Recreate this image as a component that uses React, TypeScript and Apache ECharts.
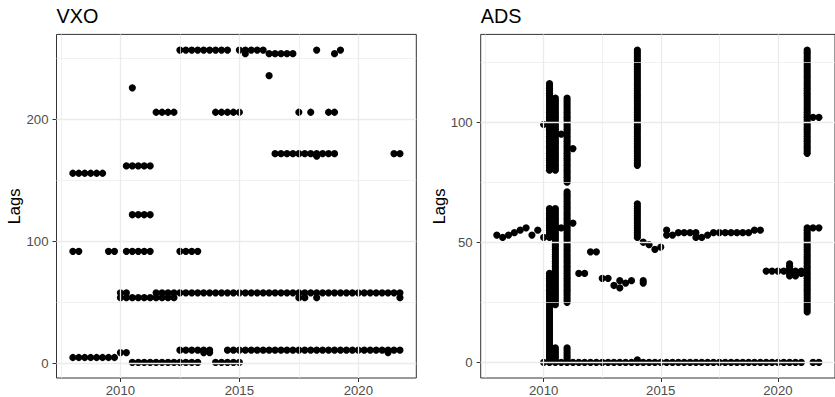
import React, { useEffect, useRef } from "react";
import * as echarts from "echarts";

// Quarterly observation dates (decimal years)
const quarters: number[] = [
  2008.0, 2008.25, 2008.5, 2008.75, 2009.0, 2009.25, 2009.5, 2009.75,
  2010.0, 2010.25, 2010.5, 2010.75, 2011.0, 2011.25, 2011.5, 2011.75,
  2012.0, 2012.25, 2012.5, 2012.75, 2013.0, 2013.25, 2013.5, 2013.75,
  2014.0, 2014.25, 2014.5, 2014.75, 2015.0, 2015.25, 2015.5, 2015.75,
  2016.0, 2016.25, 2016.5, 2016.75, 2017.0, 2017.25, 2017.5, 2017.75,
  2018.0, 2018.25, 2018.5, 2018.75, 2019.0, 2019.25, 2019.5, 2019.75,
  2020.0, 2020.25, 2020.5, 2020.75, 2021.0, 2021.25, 2021.5, 2021.75,
];

// VXO: selected lags per quarter (index matches quarters)
const vxoLags: number[][] = [
  [5, 92, 156], [5, 92, 156], [5, 156], [5, 156], [5, 156], [5, 156], [5, 92], [5, 92],
  [9, 54, 58], [9, 54, 58, 92, 162], [1, 54, 92, 122, 162, 226], [1, 54, 92, 122, 162],
  [1, 54, 92, 122, 162], [1, 54, 92, 122, 162], [1, 54, 58, 206], [1, 54, 58, 206],
  [1, 54, 58, 206], [1, 54, 58, 206], [1, 11, 58, 92, 257], [1, 11, 58, 92, 257],
  [1, 11, 58, 92, 257], [1, 11, 58, 92, 257], [9, 11, 58, 257], [9, 11, 58, 257],
  [1, 58, 206, 257], [1, 58, 206, 257], [1, 11, 58, 206, 257], [1, 11, 58, 206],
  [1, 11, 58, 206, 257], [11, 58, 254, 257], [11, 58, 257], [11, 58, 257],
  [11, 58, 257], [11, 58, 236, 254], [11, 58, 172, 254], [11, 58, 172, 254],
  [11, 58, 172, 254], [11, 58, 172, 254], [11, 54, 58, 172, 206], [11, 54, 58, 172],
  [11, 58, 172, 206], [11, 54, 58, 170, 172, 257], [11, 58, 172], [11, 58, 172, 206],
  [11, 58, 172, 206, 254], [11, 58, 257], [11, 58], [11, 58],
  [11, 58], [11, 58], [11, 58], [11, 58],
  [11, 58], [9, 11, 58], [11, 58, 172], [11, 54, 58, 172],
];

// ADS: isolated selected lags per quarter
const adsLags: number[][] = [
  [53], [52], [53], [54], [55], [56], [53], [55],
  [0, 52, 99], [], [], [0, 56, 95], [], [0, 58, 89], [0, 37], [0, 37],
  [0, 46], [0, 46], [0, 35], [0, 35], [0, 32], [0, 31, 34], [0, 33], [0, 34],
  [0, 1], [0, 33, 34, 50], [0, 49], [0, 47], [0, 48], [0, 53, 55], [0, 53], [0, 54],
  [0, 54], [0, 54], [0, 52, 54], [0, 52], [0, 53], [0, 54], [0, 54], [0, 54],
  [0, 54], [0, 54], [0, 54], [0, 54], [0, 55], [0, 55], [0, 38], [0, 38],
  [0, 38], [0, 38], [0], [0, 36, 38], [0, 37, 38], [], [0, 56, 102], [0, 56, 102],
];

// ADS: runs of consecutive selected lags [quarter index, first lag, last lag]
const adsRuns: number[][] = [
  [9, 0, 37], [9, 52, 64], [9, 80, 116],
  [10, 0, 6], [10, 24, 64], [10, 80, 110],
  [12, 0, 6], [12, 25, 71], [12, 75, 110],
  [24, 52, 66], [24, 82, 130],
  [50, 36, 41],
  [53, 21, 56], [53, 87, 130],
];

const xMajor = [2010, 2015, 2020];
const xMinor = [2007.5, 2012.5, 2017.5, 2022.5];
const vxoMajor = [0, 100, 200];
const vxoMinor = [50, 150, 250];
const adsMajor = [0, 50, 100];
const adsMinor = [25, 75, 125];

const FONT = '"Liberation Sans", Arial, Helvetica, sans-serif';

function pointsFrom(byQuarter: number[][]): number[][] {
  const out: number[][] = [];
  byQuarter.forEach((lags, i) => lags.forEach((v) => out.push([quarters[i], v])));
  return out;
}

function expandRange(vals: number[]): [number, number] {
  const mn = Math.min(...vals);
  const mx = Math.max(...vals);
  const pad = (mx - mn) * 0.05;
  return [mn - pad, mx + pad];
}

export default function App() {
  const ref = useRef<HTMLDivElement>(null);

  useEffect(() => {
    if (!ref.current) return;
    const chart = echarts.init(ref.current, undefined, { renderer: "svg" });

    const vxoPts = pointsFrom(vxoLags);
    const adsPts = pointsFrom(adsLags);
    adsRuns.forEach(([q, a, b]) => {
      for (let v = a; v <= b; v++) adsPts.push([quarters[q], v]);
    });

    const xr = expandRange(quarters);
    const vyr = expandRange(vxoPts.map((p) => p[1]));
    const ayr = expandRange(adsPts.map((p) => p[1]));

    const TOP = 34.4;
    const H = 344.1;
    const W = 359.8;
    const lefts = [56.5, 480.7];
    const yRanges = [vyr, ayr];
    const yMajors = [vxoMajor, adsMajor];
    const yMinors = [vxoMinor, adsMinor];
    const titles = ["VXO", "ADS"];
    const data = [vxoPts, adsPts];

    const majorStyle = { color: "#EBEBEB", width: 1.3, type: "solid" };
    const minorStyle = { color: "#EBEBEB", width: 0.7, type: "solid" };

    const grids = lefts.map((l) => ({
      left: l,
      top: TOP,
      width: W,
      height: H,
      show: true,
      backgroundColor: "#FFFFFF",
      borderColor: "#333333",
      borderWidth: 1,
    }));

    const xAxes = lefts.map((_, i) => ({
      type: "value",
      gridIndex: i,
      min: xr[0],
      max: xr[1],
      axisLine: { show: false, onZero: false },
      axisTick: {
        show: true,
        customValues: xMajor,
        length: 4,
        lineStyle: { color: "#333333", width: 1 },
      },
      axisLabel: {
        customValues: xMajor,
        formatter: (v: number) => String(v),
        color: "#4D4D4D",
        fontSize: 13.2,
        fontFamily: FONT,
        margin: 6,
      },
      splitLine: { show: false },
    }));

    const yAxes = lefts.map((_, i) => ({
      type: "value",
      gridIndex: i,
      min: yRanges[i][0],
      max: yRanges[i][1],
      axisLine: { show: false, onZero: false },
      axisTick: {
        show: true,
        customValues: yMajors[i],
        length: 4,
        lineStyle: { color: "#333333", width: 1 },
      },
      axisLabel: {
        customValues: yMajors[i],
        formatter: (v: number) => String(v),
        color: "#4D4D4D",
        fontSize: 13.2,
        fontFamily: FONT,
        margin: 8,
      },
      splitLine: { show: false },
    }));

    const gridSeries = lefts.map((_, i) => ({
      type: "scatter",
      xAxisIndex: i,
      yAxisIndex: i,
      data: [[xr[0], yRanges[i][0]]],
      symbolSize: 0,
      silent: true,
      z: 1,
      itemStyle: { opacity: 0 },
      markLine: {
        silent: true,
        symbol: ["none", "none"],
        label: { show: false },
        animation: false,
        data: [
          ...xMinor
            .filter((v) => v > xr[0] && v < xr[1])
            .map((v) => ({ xAxis: v, lineStyle: minorStyle })),
          ...yMinors[i].map((v) => ({ yAxis: v, lineStyle: minorStyle })),
          ...xMajor.map((v) => ({ xAxis: v, lineStyle: majorStyle })),
          ...yMajors[i].map((v) => ({ yAxis: v, lineStyle: majorStyle })),
        ],
      },
    }));

    const pointSeries = lefts.map((_, i) => ({
      type: "scatter",
      name: titles[i],
      xAxisIndex: i,
      yAxisIndex: i,
      data: data[i],
      symbol: "circle",
      symbolSize: 7.2,
      itemStyle: { color: "#000000", opacity: 1 },
      z: 3,
    }));

    const graphics: any[] = [];
    lefts.forEach((l, i) => {
      graphics.push({
        type: "text",
        x: l,
        y: 16,
        style: {
          text: titles[i],
          font: `19.8px ${FONT}`,
          fill: "#000000",
          textAlign: "left",
          textVerticalAlign: "middle",
        },
      });
      graphics.push({
        type: "text",
        x: l - 42.1,
        y: TOP + H / 2,
        rotation: Math.PI / 2,
        style: {
          text: "Lags",
          font: `16.5px ${FONT}`,
          fill: "#000000",
          textAlign: "center",
          textVerticalAlign: "middle",
        },
      });
    });

    chart.setOption({
      animation: false,
      backgroundColor: "#FFFFFF",
      grid: grids,
      xAxis: xAxes,
      yAxis: yAxes,
      series: [...gridSeries, ...pointSeries],
      graphic: graphics,
    } as any);

    return () => chart.dispose();
  }, []);

  return (
    <div
      ref={ref}
      style={{ position: "fixed", left: 0, top: 0, width: 835, height: 397, background: "#fff" }}
    />
  );
}
